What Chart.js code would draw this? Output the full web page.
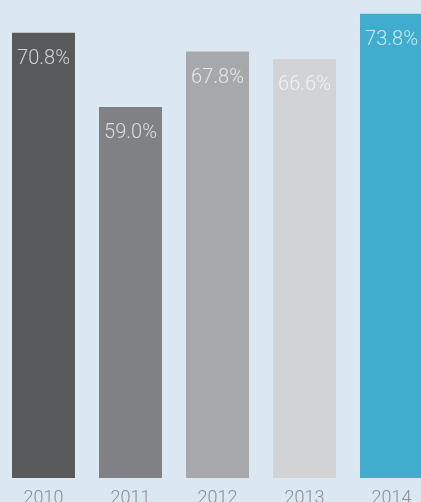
<!DOCTYPE html>
<html>
<head>
<meta charset="utf-8">
<script src="https://cdn.jsdelivr.net/npm/chart.js@4"></script>
<style>
  html, body { margin: 0; padding: 0; background: #dbe8f1; overflow: hidden; }
  #wrap { width: 435px; height: 502px; }
</style>
</head>
<body>
<div id="wrap"><canvas id="barChart" width="435" height="502"></canvas></div>
<script>
// Chart data
const years = ['2010', '2011', '2012', '2013', '2014'];
const shares = [70.8, 59.0, 67.8, 66.6, 73.8];
const barColors = ['#58595b', '#808184', '#a7a8ab', '#d2d3d5', '#40acce'];

// Draw the value inside the top of each bar
const valueLabels = {
    id: 'valueLabels',
    afterDatasetsDraw(chart) {
        const ctx = chart.ctx;
        const meta = chart.getDatasetMeta(0);
        ctx.save();
        ctx.font = '300 20px Roboto, "Liberation Sans", sans-serif';
        ctx.fillStyle = 'rgba(255, 255, 255, 0.72)';
        ctx.textAlign = 'center';
        ctx.textBaseline = 'middle';
        meta.data.forEach(function(bar, i) {
            ctx.fillText(shares[i].toFixed(1) + '%', bar.x, bar.y + 26);
        });
        ctx.restore();
    }
};

const barContext = document.getElementById('barChart').getContext('2d');
new Chart(barContext, {
    type: 'bar',
    data: {
        labels: years,
        datasets: [{
            data: shares,
            backgroundColor: barColors,
            borderWidth: 0,
            categoryPercentage: 1,
            barPercentage: 0.724
        }]
    },
    options: {
        responsive: false,
        animation: false,
        layout: { padding: 0 },
        plugins: {
            legend: { display: false },
            tooltip: { enabled: false }
        },
        scales: {
            x: {
                grid: { display: false },
                border: { display: false },
                ticks: {
                    color: '#8c8d90',
                    padding: 2,
                    font: { family: 'Roboto, "Liberation Sans", sans-serif', size: 18, weight: 300 }
                },
                afterFit: function(scale) { scale.height = 24; }
            },
            y: {
                display: false,
                min: 0,
                max: 76
            }
        }
    },
    plugins: [valueLabels]
});
</script>
</body>
</html>
